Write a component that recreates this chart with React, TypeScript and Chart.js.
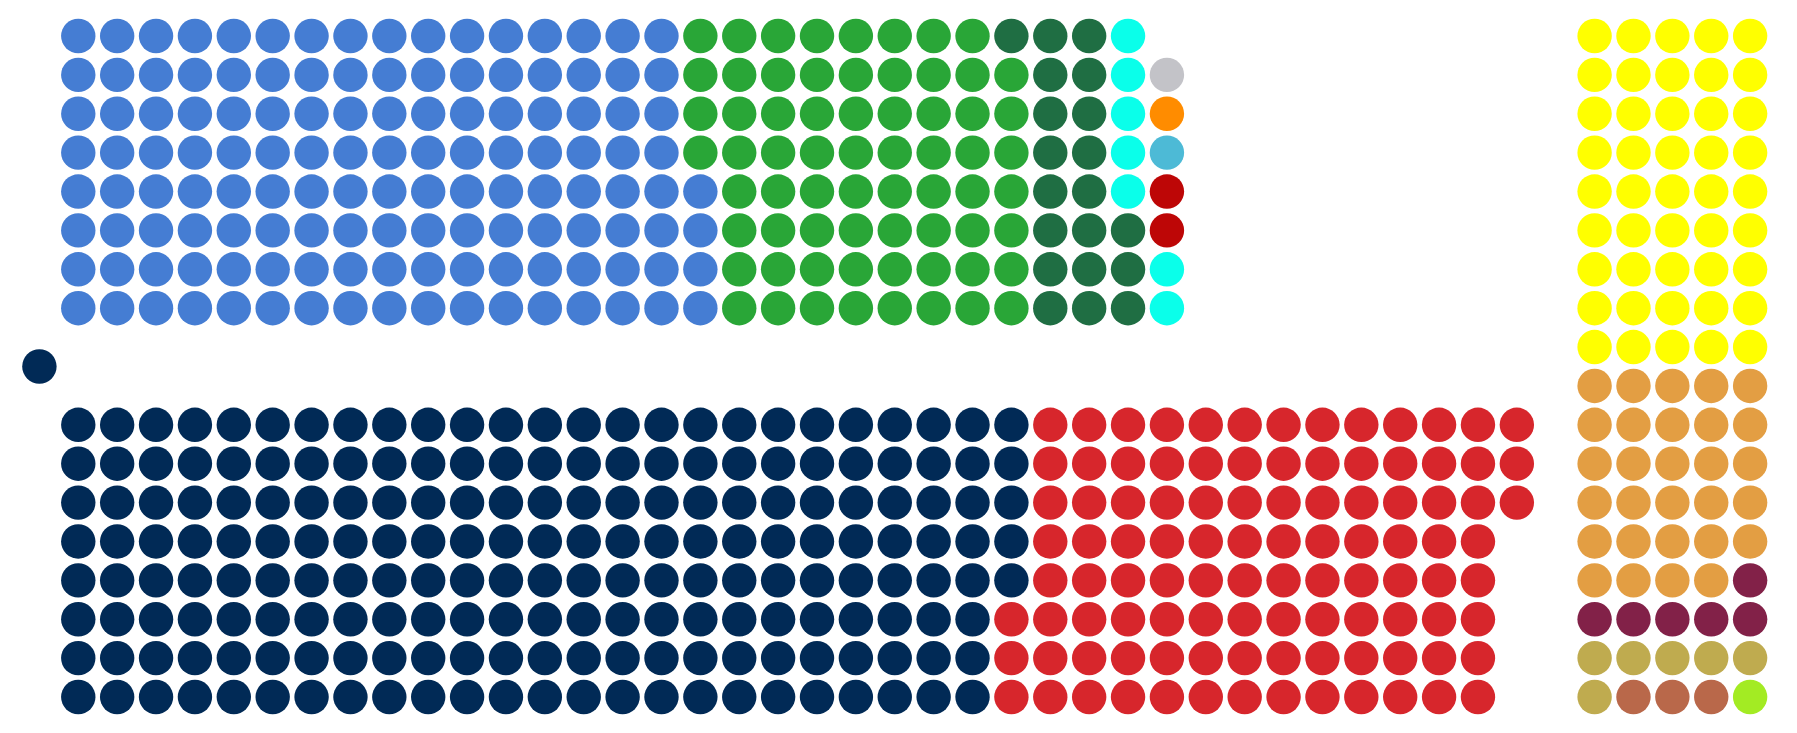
import React, { useEffect, useRef } from "react";
import { Chart, registerables } from "chart.js";

Chart.register(...registerables);

// Upper bench block (filled column by column, from the aisle outward)
const topParties = ["Party A", "Party B", "Party C", "Party D", "Party E", "Party F", "Party G", "Party H"];
const topSeats = [132, 67, 20, 7, 2, 1, 1, 1];
const topColors = ["#457DD3", "#29A637", "#1F6E43", "#0AFFEA", "#BD0606", "#4DBAD6", "#FF8C00", "#C3C3C8"];

// Lower bench block (filled column by column, from the aisle outward)
const bottomParties = ["Party I", "Party J"];
const bottomSeats = [197, 102];
const bottomColors = ["#012A56", "#D7262C"];

// Cross benches (filled row by row, from the top)
const sideParties = ["Party K", "Party L", "Party M", "Party N", "Party O", "Party P"];
const sideSeats = [45, 29, 6, 6, 3, 1];
const sideColors = ["#FFFF00", "#E39E43", "#822148", "#BFAB4F", "#B9684A", "#A3EB23"];

// Speaker
const speakerParties = ["Speaker"];
const speakerSeats = [1];
const speakerColors = ["#012A56"];

const ROWS = 8;
const SIDE_COLS = 5;
const SIDE_X0 = 40;

type Pt = { x: number; y: number };

function benchBlock(seats: number[], sign: number): Pt[][] {
  const out: Pt[][] = [];
  let idx = 0;
  for (const n of seats) {
    const pts: Pt[] = [];
    for (let k = 0; k < n; k++) {
      const col = Math.floor(idx / ROWS);
      const row = idx % ROWS;
      pts.push({ x: col + 1, y: sign * (1.5 + row) });
      idx++;
    }
    out.push(pts);
  }
  return out;
}

function sideBlock(seats: number[]): Pt[][] {
  const out: Pt[][] = [];
  let idx = 0;
  for (const n of seats) {
    const pts: Pt[] = [];
    for (let k = 0; k < n; k++) {
      const row = Math.floor(idx / SIDE_COLS);
      const col = idx % SIDE_COLS;
      pts.push({ x: SIDE_X0 + col, y: 8.5 - row });
      idx++;
    }
    out.push(pts);
  }
  return out;
}

export default function App() {
  const ref = useRef<HTMLCanvasElement | null>(null);

  useEffect(() => {
    if (!ref.current) return;
    const top = benchBlock(topSeats, 1);
    const bottom = benchBlock(bottomSeats, -1);
    const side = sideBlock(sideSeats);
    const speaker = speakerSeats.map(() => [{ x: 0, y: 0 }]);

    const mk = (names: string[], pts: Pt[][], colors: string[]) =>
      names.map((name, i) => ({
        label: name,
        data: pts[i],
        backgroundColor: colors[i],
        borderWidth: 0,
        pointRadius: 17.2,
        pointHoverRadius: 17.2,
        showLine: false,
      }));

    const chart = new Chart(ref.current, {
      type: "scatter",
      data: {
        datasets: [
          ...mk(speakerParties, speaker, speakerColors),
          ...mk(topParties, top, topColors),
          ...mk(bottomParties, bottom, bottomColors),
          ...mk(sideParties, side, sideColors),
        ],
      },
      options: {
        animation: false,
        responsive: true,
        maintainAspectRatio: false,
        layout: { autoPadding: false, padding: 0 },
        plugins: { legend: { display: false }, tooltip: { enabled: false } },
        scales: {
          x: { type: "linear", display: false, min: -0.8076, max: 45.0 },
          y: { type: "linear", display: false, min: -9.22, max: 9.22 },
        },
      },
    });
    return () => chart.destroy();
  }, []);

  return (
    <div style={{ position: "relative", width: 1781, height: 717 }}>
      <canvas ref={ref} />
    </div>
  );
}
